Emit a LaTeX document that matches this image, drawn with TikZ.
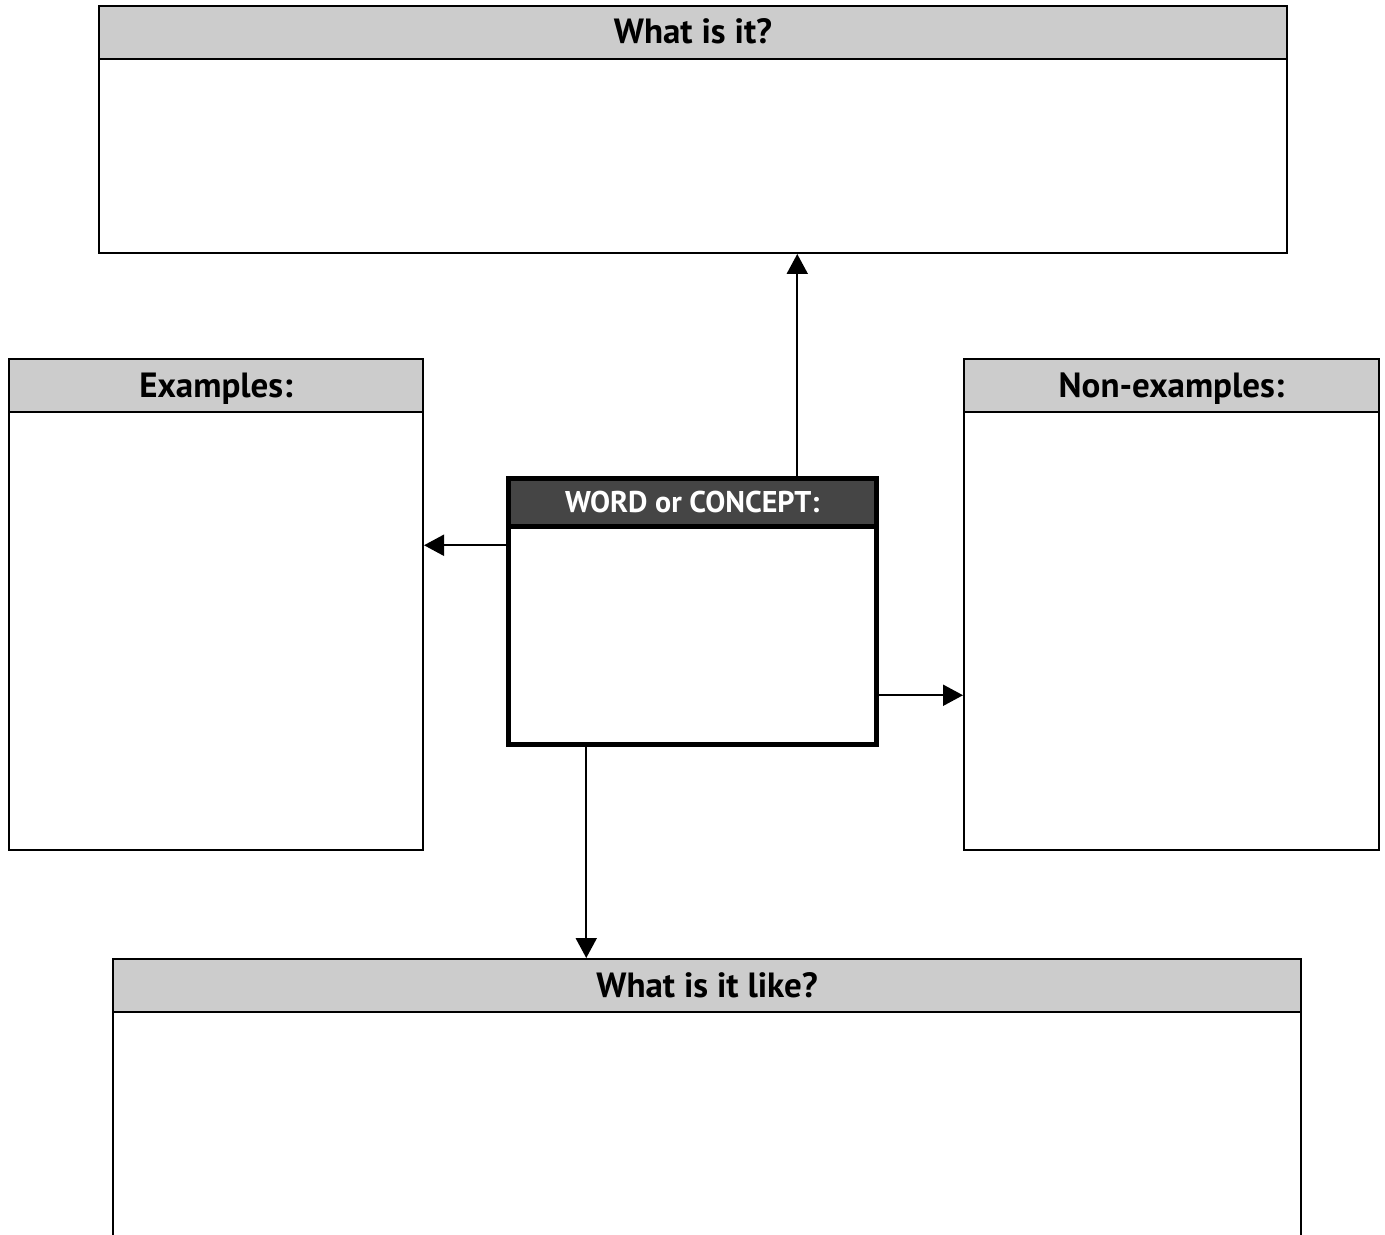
\documentclass[tikz,border=0pt]{standalone}
\usepackage{fontspec}
\setmainfont{PT Sans}
\usepackage{tikz}
\usetikzlibrary{arrows.meta,positioning}
\definecolor{headgray}{HTML}{CCCCCC}
\definecolor{wordgray}{HTML}{454545}

\begin{document}
\begin{tikzpicture}[x=0.5pt,y=-0.5pt,>={Triangle[length=10pt,width=10.5pt]},
  panel/.style={draw,line width=1pt,rectangle,anchor=north west,inner sep=0pt},
  head/.style={draw,line width=1pt,fill=headgray,minimum height=26.5pt,inner sep=0pt,
    text height=11.5pt,text depth=0pt,font=\fontsize{17.5}{19}\selectfont\bfseries},
  wordbox/.style={draw,line width=2.5pt,rectangle,anchor=north west,inner sep=0pt,
    minimum width=184.25pt,minimum height=132.75pt},
  wordhead/.style={draw,line width=2.5pt,fill=wordgray,text=white,inner sep=0pt,
    minimum width=184.25pt,minimum height=24pt,text height=10pt,text depth=0pt,
    font=\fontsize{15}{17}\selectfont\bfseries}]
  \useasboundingbox (0,0) rectangle (1385,1235);

  % boxes round the concept
  \node[panel,minimum width=594pt,minimum height=123.5pt] (what) at (98,5) {};
  \node[head,minimum width=594pt,below=0pt of what.north] (whathead) {What is it?};

  \node[panel,minimum width=207pt,minimum height=245.5pt] (exa) at (8,358) {};
  \node[head,minimum width=207pt,below=0pt of exa.north] (exahead) {Examples:};

  \node[panel,minimum width=207.5pt,minimum height=245.5pt] (nonexa) at (963,358) {};
  \node[head,minimum width=207.5pt,below=0pt of nonexa.north] (nonexahead) {Non-examples:};

  \node[panel,minimum width=594pt,minimum height=171pt] (like) at (112,958) {};
  \node[head,minimum width=594pt,below=0pt of like.north] (likehead) {What is it like?};

  % the concept itself
  \node[wordbox] (word) at (505.5,476) {};
  \node[wordhead,below=0pt of word.north] (wordtitle) {WORD or CONCEPT:};

  \coordinate (upfoot) at ([xshift=52.5pt]word.north);
  \coordinate (leftfoot) at ([yshift=33pt]word.west);
  \coordinate (rightfoot) at ([yshift=-42pt]word.east);
  \coordinate (downfoot) at ([xshift=-53pt]word.south);

  \draw[->,line width=1pt] (upfoot) -- (upfoot |- what.south);
  \draw[->,line width=1pt] (leftfoot) -- (leftfoot -| exa.east);
  \draw[->,line width=1pt] (rightfoot) -- (rightfoot -| nonexa.west);
  \draw[->,line width=1pt] (downfoot) -- (downfoot |- like.north);
\end{tikzpicture}
\end{document}
